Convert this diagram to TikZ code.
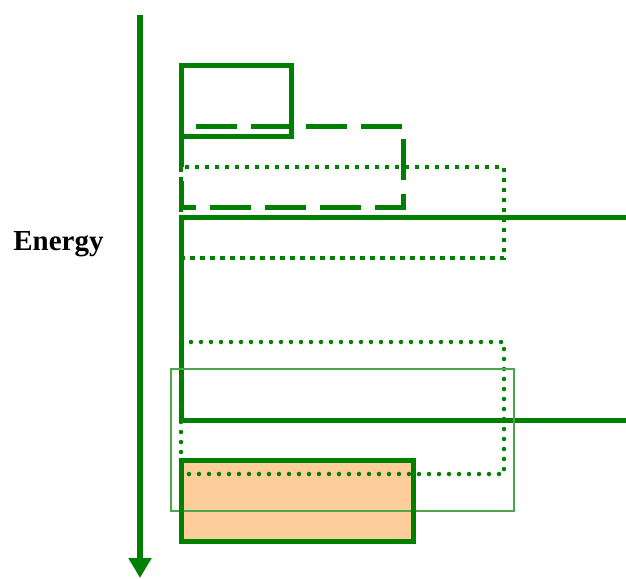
\documentclass[tikz,border=0pt]{standalone}
\usepackage{fontspec}
\setmainfont{Liberation Serif}
\usepackage{xcolor}
\usetikzlibrary{arrows.meta}
\definecolor{LevelGreen}{RGB}{0,128,0}
\definecolor{BandOrange}{RGB}{253,205,154}

\begin{document}
\begin{tikzpicture}[
    x=1pt, y=-1pt,
    level/.style={draw=LevelGreen, line width=5pt},
    dashlevel/.style={level, dash pattern=on 41pt off 14pt},
    squaredots/.style={draw=LevelGreen, line width=4.5pt, dash pattern=on 4.5pt off 5.5pt},
    rounddots/.style={draw=LevelGreen, line width=4.5pt, line cap=round, dash pattern=on 0pt off 10pt},
    thinbox/.style={draw=LevelGreen!70, line width=1.2pt},
    axis/.style={draw=LevelGreen, line width=5.5pt, -{Triangle[length=20pt, width=22pt]}}
  ]
    \useasboundingbox (0,0) rectangle (626,578);
    \clip (0,0) rectangle (626,578);
    % energy axis
    \coordinate (top) at (140,15);
    \coordinate (bottom) at (140,578);
    \draw[axis] (top) -- (bottom);
    \node[font=\bfseries\fontsize{29}{31}\selectfont] (energy) at (58.5,244) {Energy};
    % filled band
    \fill[BandOrange] (181,460) rectangle (413,541);
    % upper levels
    \draw[level] (181,65.5) rectangle (291.5,136);
    \draw[dashlevel] (181,126) rectangle (403,207);
    \draw[squaredots] (181,167) rectangle (504,258);
    \draw[level] (626,217) -- (181,217) -- (181,420) -- (626,420);
    % lower levels
    \draw[rounddots] (181,342) rectangle (504,474);
    \draw[thinbox] (171,369) rectangle (514,511);
    \draw[level] (181,460) rectangle (413,541);
  \end{tikzpicture}
\end{document}
